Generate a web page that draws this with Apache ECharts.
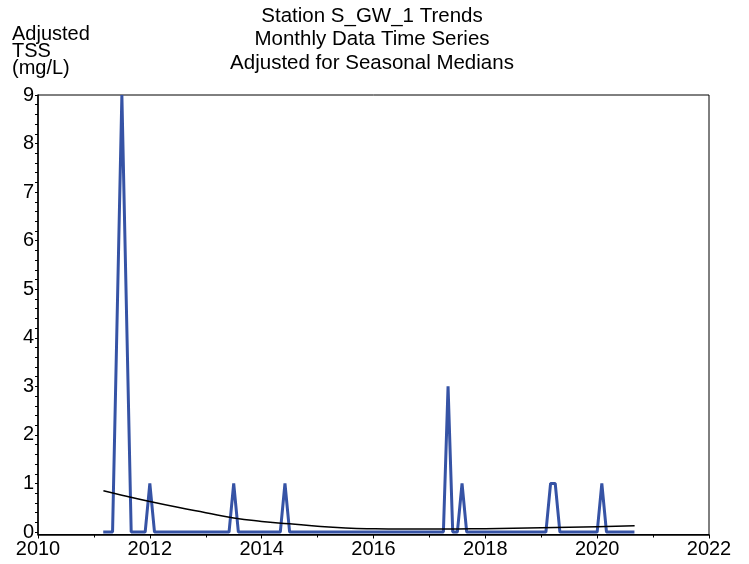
<!DOCTYPE html>
<html>
<head>
    <meta charset="utf-8">
    <title>Station S_GW_1 Trends</title>
    <script src="https://cdn.jsdelivr.net/npm/echarts@6/dist/echarts.min.js"></script>
    <style>
        body { margin: 0; background: #fff; }
    </style>
</head>
<body>
<div id="main" style="width: 749px; height: 564px;"></div>
<script type="text/javascript">
    var obsMonths = ['2011-03', '2011-05', '2011-07', '2011-09', '2011-12', '2012-01', '2012-02',
        '2013-06', '2013-07', '2013-08', '2014-05', '2014-06', '2014-07',
        '2017-04', '2017-05', '2017-06', '2017-07', '2017-08', '2017-09',
        '2019-02', '2019-03', '2019-04', '2019-05', '2020-01', '2020-02', '2020-03', '2020-09'];
    var obsValues = [0, 0, 9, 0, 0, 1, 0,
        0, 1, 0, 0, 1, 0,
        0, 3, 0, 0, 1, 0,
        0, 1, 1, 0, 0, 1, 0, 0];

    // smooth trend line
    var trendYears = [2011.17, 2011.5, 2012, 2012.5, 2013, 2013.5, 2014, 2014.5, 2015, 2015.5,
        2016, 2016.5, 2017, 2017.5, 2018, 2018.5, 2019, 2019.5, 2020, 2020.67];
    var trendValues = [0.85, 0.76, 0.63, 0.51, 0.40, 0.29, 0.22, 0.17, 0.12, 0.085,
        0.068, 0.062, 0.062, 0.065, 0.07, 0.078, 0.088, 0.10, 0.112, 0.13];

    var yTicks = [0, 1, 2, 3, 4, 5, 6, 7, 8, 9];
    var titleLines = ['Station S_GW_1 Trends', 'Monthly Data Time Series', 'Adjusted for Seasonal Medians'];
    var yNameLines = ['Adjusted', 'TSS', '(mg/L)'];

    function toYear(s) {
        var p = s.split('-');
        return +p[0] + (+p[1] - 1) / 12;
    }

    var obsData = obsMonths.map(function (m, i) { return [toYear(m), obsValues[i]]; });
    var trendData = trendYears.map(function (y, i) { return [y, trendValues[i]]; });

    // minor ticks every 0.2 on the y axis
    var yMinor = [];
    for (var t = 0; t <= 45; t++) yMinor.push(Math.round(t * 2) / 10);

    var font = 'Liberation Sans, Arial, sans-serif';
    var graphics = [];
    titleLines.forEach(function (s, i) {
        graphics.push({
            type: 'text', x: 372, y: 16 + i * 23.5,
            style: { text: s, font: '20.5px ' + font, fill: '#000', textAlign: 'center', textVerticalAlign: 'middle' }
        });
    });
    yNameLines.forEach(function (s, i) {
        graphics.push({
            type: 'text', x: 12, y: [34, 51, 68][i],
            style: { text: s, font: '20px ' + font, fill: '#000', textAlign: 'left', textVerticalAlign: 'middle' }
        });
    });

    var myChart = echarts.init(document.getElementById('main'));
    var option = {
        backgroundColor: '#fff',
        animation: false,
        graphic: graphics,
        grid: {
            left: 38, right: 40, top: 95, bottom: 29.5,
            show: true, borderColor: '#000', borderWidth: 1
        },
        xAxis: {
            type: 'value', min: 2010, max: 2022, interval: 2,
            axisLine: { onZero: false, lineStyle: { color: '#000', width: 1.5 } },
            axisTick: { length: 4, lineStyle: { color: '#000' } },
            minorTick: { show: true, splitNumber: 2, length: 3, lineStyle: { color: '#000' } },
            splitLine: { show: false },
            axisLabel: {
                color: '#000', fontSize: 20, fontFamily: font, margin: 5,
                formatter: function (v) { return String(v); }
            }
        },
        yAxis: {
            type: 'value', min: -0.05, max: 9,
            axisLine: { show: true, lineStyle: { color: '#000', width: 1.5 } },
            axisTick: { show: true, length: 3, customValues: yMinor, lineStyle: { color: '#000' } },
            splitLine: { show: false },
            axisLabel: {
                color: '#000', fontSize: 20, fontFamily: font, margin: 4,
                customValues: yTicks, padding: [0, 0, 3, 0]
            }
        },
        series: [
            {
                name: 'Adjusted TSS',
                type: 'line',
                data: obsData,
                showSymbol: false,
                lineStyle: { color: '#3653a5', width: 3 },
                z: 3
            },
            {
                name: 'Trend',
                type: 'line',
                data: trendData,
                smooth: true,
                showSymbol: false,
                lineStyle: { color: '#000', width: 1.5 },
                z: 4
            }
        ]
    };
    myChart.setOption(option);
</script>
</body>
</html>
